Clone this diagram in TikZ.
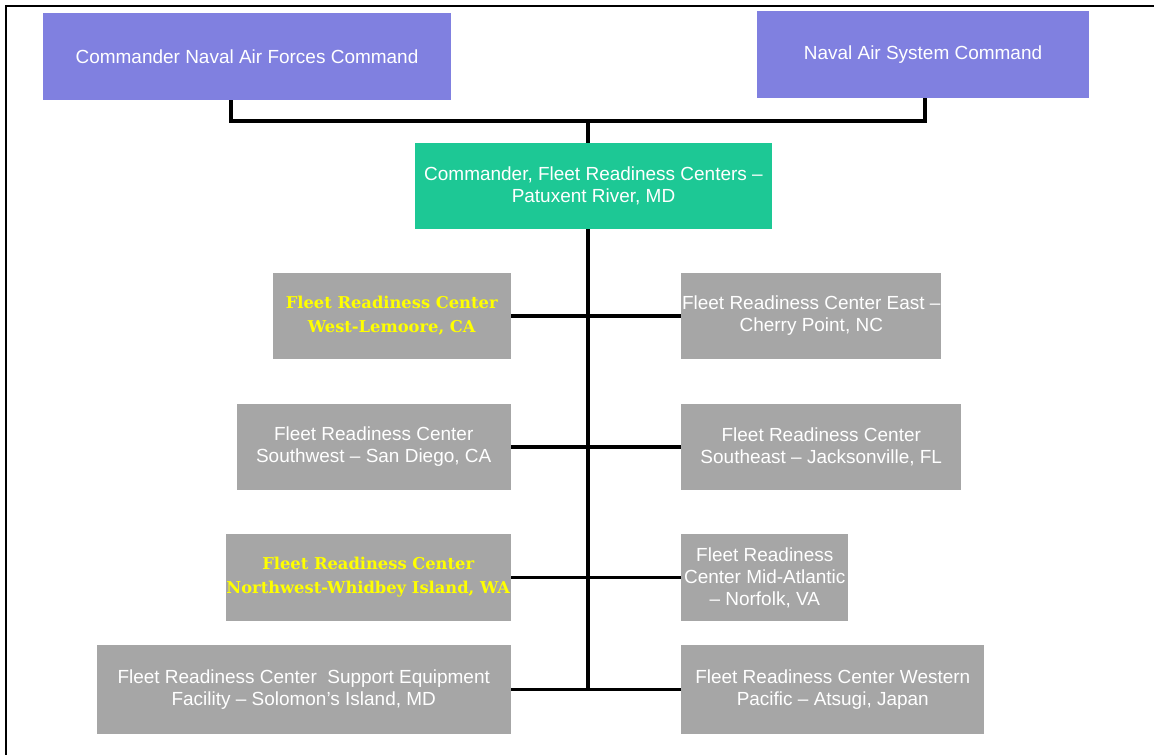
\documentclass[tikz,border=0pt]{standalone}
\usepackage{fontspec}
\setmainfont{Liberation Sans}
\newfontfamily\frcserif{DejaVu Serif}
\definecolor{cmdpurple}{RGB}{128,128,224}
\definecolor{frcgreen}{RGB}{29,200,149}
\definecolor{frcgray}{RGB}{166,166,166}
\definecolor{frcyellow}{RGB}{255,255,0}
\newcommand\midx{14.7}
\newcommand\lx{12.775}
\newcommand\rx{17.025}

\begin{document}
\begin{tikzpicture}[cmd/.style = {rectangle, fill=cmdpurple, text=white, inner sep=0pt, align=center, font=\fontsize{13.5}{16}\selectfont}, frc/.style = {rectangle, fill=frcgray, text=white, inner sep=0pt, align=center, font=\fontsize{13.5}{15.6}\selectfont}, hl/.style = {text=frcyellow, font=\frcserif\bfseries\fontsize{11.6}{17}\selectfont}, conn/.style = {line width=2.8pt, black}]
    \useasboundingbox (0,0) rectangle (28.85,18.875);
    \draw[line width=2pt] (0.15,0) -- (0.15,18.725) -- (28.85,18.725);

    %Commands
    \node at (6.175,17.4625) [cmd, minimum width=10.2cm, minimum height=2.175cm] (cnaf) {Commander Naval Air Forces Command};
    \node at (23.075,17.5125) [cmd, minimum width=8.3cm, minimum height=2.175cm] (navair) {Naval Air System Command};
    \node at (14.8375,14.225) [cmd, fill=frcgreen, minimum width=8.925cm, minimum height=2.15cm] (comfrc) {Commander, Fleet Readiness Centers --\\Patuxent River, MD};

    \coordinate (hub) at (\midx,15.85);
    \draw[conn] ([xshift=-4mm]cnaf.south) |- (hub) -| ([xshift=0.5mm]navair.south);
    \draw[conn] (hub) -- (hub |- comfrc.north);

    %Row 1
    \node at (\lx,10.975) [frc, hl, anchor=east, minimum width=5.95cm, minimum height=2.15cm] (west) {Fleet Readiness Center\\West-Lemoore, CA};
    \node at (\rx,10.975) [frc, anchor=west, minimum width=6.5cm, minimum height=2.15cm] (east) {Fleet Readiness Center East --\\Cherry Point, NC};
    %Row 2
    \node at (\lx,7.7) [frc, anchor=east, minimum width=6.85cm, minimum height=2.15cm] (southwest) {Fleet Readiness Center\\Southwest -- San Diego, CA};
    \node at (\rx,7.7) [frc, anchor=west, minimum width=7cm, minimum height=2.15cm] (southeast) {Fleet Readiness Center\\Southeast -- Jacksonville, FL};
    %Row 3
    \node at (\lx,4.4375) [frc, hl, anchor=east, minimum width=7.125cm, minimum height=2.175cm] (northwest) {Fleet Readiness Center\\Northwest-Whidbey Island, WA};
    \node at (\rx,4.4375) [frc, anchor=west, minimum width=4.175cm, minimum height=2.175cm] (midatl) {Fleet Readiness\\Center Mid-Atlantic\\-- Norfolk, VA};
    %Row 4
    \node at (\lx,1.6375) [frc, anchor=east, minimum width=10.35cm, minimum height=2.225cm] (sef) {Fleet Readiness Center\ \ Support Equipment\\Facility -- Solomon's Island, MD};
    \node at (\rx,1.6375) [frc, anchor=west, minimum width=7.575cm, minimum height=2.225cm] (westpac) {Fleet Readiness Center Western\\Pacific -- Atsugi, Japan};

    \draw[conn] (comfrc.south -| hub) -- (hub |- westpac.west);
    \draw[conn] (west.east) -- (east.west);
    \draw[conn] (southwest.east) -- (southeast.west);
    \draw[conn] (northwest.east) -- (midatl.west);
    \draw[conn] (sef.east) -- (westpac.west);
\end{tikzpicture}
\end{document}
